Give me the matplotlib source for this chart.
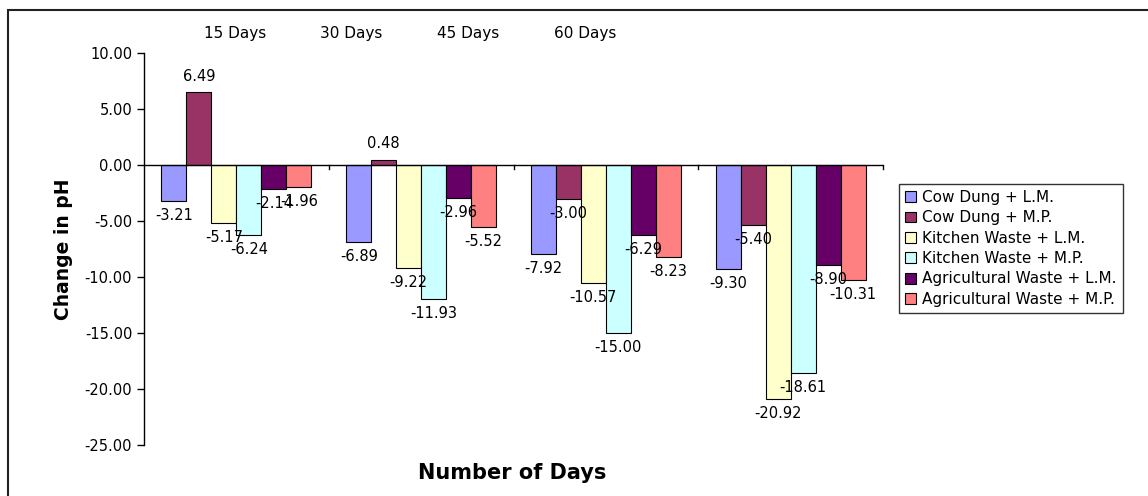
import numpy as np
import matplotlib
matplotlib.use("Agg")
import matplotlib.pyplot as plt
from matplotlib.patches import Rectangle

days = ["15 Days", "30 Days", "45 Days", "60 Days"]
series = ["Cow Dung + L.M.", "Cow Dung + M.P.", "Kitchen Waste + L.M.",
          "Kitchen Waste + M.P.", "Agricultural Waste + L.M.", "Agricultural Waste + M.P."]
cow_lm = [-3.21, -6.89, -7.92, -9.30]
cow_mp = [6.49, 0.48, -3.00, -5.40]
kitchen_lm = [-5.17, -9.22, -10.57, -20.92]
kitchen_mp = [-6.24, -11.93, -15.00, -18.61]
agri_lm = [-2.14, -2.96, -6.29, -8.90]
agri_mp = [-1.96, -5.52, -8.23, -10.31]
colors = ["#9999FF", "#993366", "#FFFFCC", "#CCFFFF", "#660066", "#FF8080"]

values = [cow_lm, cow_mp, kitchen_lm, kitchen_mp, agri_lm, agri_mp]

plt.rcParams["font.family"] = "DejaVu Sans"

fig = plt.figure(figsize=(11.48, 4.96), dpi=100)
ax = fig.add_axes([144 / 1148, 1 - 445 / 496, (883 - 144) / 1148, (445 - 53) / 496])

x = np.arange(len(days))
bw = 1 / 7.4
for i, (vals, col, name) in enumerate(zip(values, colors, series)):
    pos = x - 3 * bw + bw / 2 + i * bw
    ax.bar(pos, vals, width=bw, color=col, edgecolor="black", linewidth=0.8, label=name, zorder=2)
    for px, v in zip(pos, vals):
        if v >= 0:
            ax.annotate(f"{v:.2f}", (px, v), xytext=(0, 6), textcoords="offset points",
                        ha="center", va="bottom", fontsize=10.5)
        else:
            ax.annotate(f"{v:.2f}", (px, v), xytext=(0, -5), textcoords="offset points",
                        ha="center", va="top", fontsize=10.5)

ax.set_xlim(-0.5, len(days) - 0.5)
ax.set_ylim(-25, 10)
ax.set_yticks(np.arange(-25, 10.1, 5))
ax.set_yticklabels([f"{t:.2f}" for t in np.arange(-25, 10.1, 5)], fontsize=10.5)
ax.tick_params(axis="y", direction="out", length=5, width=1)

# category axis drawn on the zero line
ax.spines["top"].set_visible(False)
ax.spines["right"].set_visible(False)
ax.spines["bottom"].set_visible(False)
ax.spines["left"].set_linewidth(1)
ax.axhline(0, color="black", linewidth=1, zorder=3)
ax.set_xticks([])
for b in np.arange(-0.5, len(days), 1.0)[1:]:
    ax.plot([b, b], [0, -0.4], color="black", linewidth=1, clip_on=False, zorder=3)

# category labels along the top
for k, d in enumerate(days):
    ax.text(0.123 + 0.158 * k, 1.05, d, transform=ax.transAxes, ha="center", va="center", fontsize=11)

ax.set_ylabel("Change in pH", fontsize=13.5, fontweight="bold", labelpad=8)
fig.text(512 / 1148, 1 - 473 / 496, "Number of Days", ha="center", va="center",
         fontsize=15, fontweight="bold")

leg = fig.legend(loc="upper left", bbox_to_anchor=(899 / 1148, 1 - 184 / 496), fontsize=11,
                 frameon=True, fancybox=False, edgecolor="black", handlelength=0.7,
                 handleheight=0.7, handletextpad=0.4, labelspacing=0.35, borderpad=0.4,
                 borderaxespad=0)
leg.get_frame().set_linewidth(1)
for h in leg.legend_handles:
    h.set_linewidth(0.8)

fig.patches.append(Rectangle((8 / 1148, -0.05), 1.1, 1 - 10 / 496 + 0.05, transform=fig.transFigure,
                             fill=False, edgecolor="#222222", linewidth=1.5))

fig.savefig("out.png", dpi=100)
